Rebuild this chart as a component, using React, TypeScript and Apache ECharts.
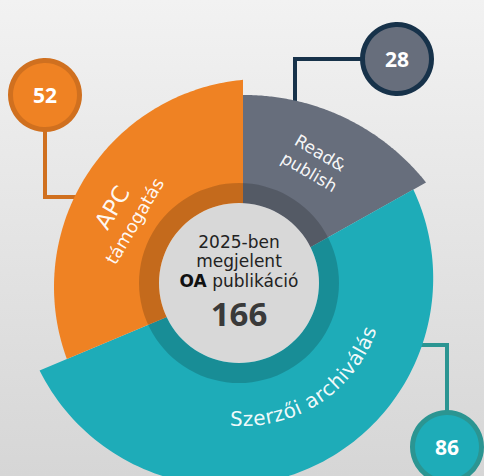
import React, { useEffect, useRef } from "react";
import * as echarts from "echarts";

// ---- data ----
const categories = ["Read&\npublish", "Szerzői archiválás", "APC\ntámogatás"];
const values = [28, 86, 52];
const centerLines = ["2025-ben", "megjelent", "OA", "publikáció"];
const total = values.reduce((a, b) => a + b, 0);

// ---- styles / layout ----
const W = 484;
const H = 476;
const CX = 243;
const CY = 285;
const POLAR_R = 200;
const FONT = '"DejaVu Sans", "Open Sans", sans-serif';
const NUM_FONT = '"Open Sans", "Noto Sans", sans-serif';

const sectorStyle = [
  { color: "#676e7c", off: [1.6, 42], R: 232, mode: "tangent", lines: [{ r: 153, size: 17 }, { r: 131, size: 17 }], angleOff: 0 },
  { color: "#1eacb8", off: [-17.4, -6.8], R: 207.6, mode: "curve", lines: [{ r: 134, size: 20 }], angleOff: -7 },
  { color: "#ef8223", off: [19, 2], R: 208, mode: "tangent", lines: [{ r: 152, size: 23 }, { r: 126, size: 18 }], angleOff: -3 },
];

const callouts = [
  { cx: 397, cy: 59, fill: "#676e7c", stroke: "#17324a", line: [[362, 59], [295, 59], [295, 115]] },
  { cx: 447, cy: 447, fill: "#1eacb8", stroke: "#2b9592", line: [[447, 412], [447, 345], [395, 345]] },
  { cx: 45, cy: 95, fill: "#ef8223", stroke: "#d0701f", line: [[45, 130], [45, 197], [105, 197]] },
];

let acc = 0;
const seriesData = values.map((v, i) => {
  const d = [0.5, acc, acc + v, i];
  acc += v;
  return d;
});

const measureCtx = typeof document !== "undefined" ? document.createElement("canvas").getContext("2d") : null;
function textWidth(t: string, size: number) {
  if (!measureCtx) return t.length * size * 0.6;
  measureCtx.font = `${size}px ${FONT}`;
  return measureCtx.measureText(t).width;
}

function renderItem(params: any, api: any) {
  const i = api.value(3);
  const start = api.value(1);
  const end = api.value(2);
  const s = sectorStyle[i];
  const c = api.coord([0, start]);
  const dir = (a: number) => {
    const p = api.coord([1, a]);
    const dx = p[0] - c[0];
    const dy = p[1] - c[1];
    const len = Math.hypot(dx, dy) || 1;
    return [dx / len, dy / len];
  };
  const rayPoint = (a: number) => {
    const u = dir(a);
    const ox = s.off[0];
    const oy = s.off[1];
    const ud = u[0] * ox + u[1] * oy;
    const t = ud + Math.sqrt(ud * ud - (ox * ox + oy * oy) + s.R * s.R);
    return [c[0] + t * u[0], c[1] + t * u[1]];
  };
  const pts: number[][] = [[c[0], c[1]]];
  const N = 120;
  for (let k = 0; k <= N; k++) pts.push(rayPoint(start + ((end - start) * k) / N));

  const children: any[] = [
    { type: "polygon", shape: { points: pts }, style: { fill: s.color }, z2: 1 },
  ];

  const degToVal = (deg: number) => (deg * total) / 360;
  const mid = (start + end) / 2 + degToVal(s.angleOff);
  const lines = categories[i].split("\n");
  if (s.mode === "tangent") {
    lines.forEach((ln, li) => {
      const st = s.lines[li];
      const u = dir(mid);
      const rot = Math.atan2(-u[1], u[0]) - Math.PI / 2;
      children.push({
        type: "text",
        x: c[0] + st.r * u[0],
        y: c[1] + st.r * u[1],
        rotation: rot,
        z2: 5,
        style: {
          text: ln,
          fill: "#ffffff",
          opacity: 0.95,
          fontSize: st.size,
          fontFamily: FONT,
          align: "center",
          verticalAlign: "middle",
        },
      });
    });
  } else {
    const st = s.lines[0];
    const txt = lines[0];
    const chars = Array.from(txt);
    const widths = chars.map((ch) => textWidth(ch, st.size));
    const totalW = widths.reduce((a, b) => a + b, 0);
    const spanVal = degToVal(((totalW / st.r) * 180) / Math.PI);
    let cum = 0;
    chars.forEach((ch, k) => {
      const w = widths[k];
      const a = mid + spanVal / 2 - degToVal((((cum + w / 2) / st.r) * 180) / Math.PI);
      cum += w;
      if (ch === " ") return;
      const u = dir(a);
      const rot = Math.atan2(-u[1], u[0]) + Math.PI / 2;
      children.push({
        type: "text",
        x: c[0] + st.r * u[0],
        y: c[1] + st.r * u[1],
        rotation: rot,
        z2: 5,
        style: {
          text: ch,
          fill: "#ffffff",
          opacity: 0.95,
          fontSize: st.size,
          fontFamily: FONT,
          align: "center",
          verticalAlign: "middle",
        },
      });
    });
  }
  return { type: "group", children };
}

export default function App() {
  const ref = useRef<HTMLDivElement>(null);
  useEffect(() => {
    const chart = echarts.init(ref.current!, null, { renderer: "svg" });
    const graphics: any[] = [
      { type: "ring", shape: { cx: 239, cy: 283, r: 100, r0: 80 }, style: { fill: "rgba(0,0,0,0.18)" }, z: 50 },
      { type: "circle", shape: { cx: 239, cy: 283, r: 80 }, style: { fill: "#d8d8d8" }, z: 50 },
      {
        type: "text", x: 239, y: 261, z: 51,
        style: {
          text: `${centerLines[0]}\n${centerLines[1]}\n{b|${centerLines[2]}} ${centerLines[3]}`,
          fill: "#222", fontSize: 17, lineHeight: 19.5, fontFamily: FONT, align: "center", verticalAlign: "middle",
          rich: { b: { fontWeight: "bold", fontSize: 17, lineHeight: 19.5, fontFamily: FONT, fill: "#111" } },
        },
      },
      {
        type: "text", x: 239, y: 313, z: 51,
        style: { text: String(total), fill: "#3a3a3a", fontSize: 33, fontWeight: "bold", fontFamily: NUM_FONT, align: "center", verticalAlign: "middle" },
      },
    ];
    callouts.forEach((co, i) => {
      graphics.push({
        type: "polyline", z: 1,
        shape: { points: co.line },
        style: { stroke: co.stroke, lineWidth: 4, fill: null },
      });
      graphics.push({
        type: "circle", z: 60,
        shape: { cx: co.cx, cy: co.cy, r: 34.5 },
        style: { fill: co.fill, stroke: co.stroke, lineWidth: 5 },
      });
      graphics.push({
        type: "text", x: co.cx, y: co.cy, z: 61,
        style: { text: String(values[i]), fill: "#ffffff", fontSize: 21, fontWeight: "bold", fontFamily: NUM_FONT, align: "center", verticalAlign: "middle" },
      });
    });

    chart.setOption({
      animation: false,
      backgroundColor: {
        type: "linear", x: 0, y: 0, x2: 0, y2: 1,
        colorStops: [
          { offset: 0, color: "#f2f2f2" },
          { offset: 1, color: "#d6d6d6" },
        ],
      },
      polar: { center: [CX, CY], radius: POLAR_R },
      angleAxis: { type: "value", min: 0, max: total, startAngle: 90, clockwise: true, show: false },
      radiusAxis: { type: "value", min: 0, max: 1, show: false },
      series: [
        {
          type: "custom",
          coordinateSystem: "polar",
          clip: false,
          z: 2,
          encode: { radius: 0, angle: 1 },
          data: seriesData,
          renderItem,
        },
      ],
      graphic: graphics,
    });
    return () => chart.dispose();
  }, []);
  return <div ref={ref} style={{ position: "fixed", left: 0, top: 0, width: W, height: H }} />;
}
